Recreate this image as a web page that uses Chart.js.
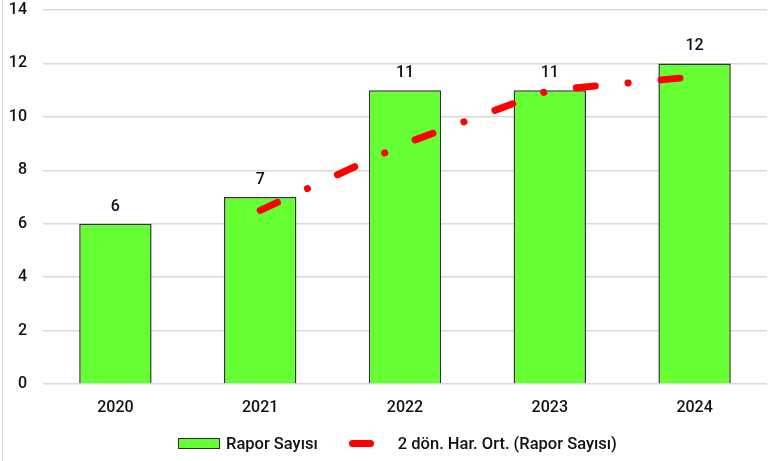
<!DOCTYPE html>
<html>
<head>
<meta charset="utf-8">
<script src="https://cdn.jsdelivr.net/npm/chart.js@4"></script>
<style>
  html, body { margin: 0; padding: 0; background: #fff; }
  #wrap { position: relative; width: 782px; height: 461px; font-family: Roboto, sans-serif; }
  #wrap::before { content: ''; position: absolute; left: 2px; top: 0; bottom: 0; border-left: 1px solid #d9d9d9; }
  #legend { position: absolute; left: 178px; top: 434px; height: 18px; display: flex; align-items: center;
            font-size: 16.5px; font-weight: 500; color: #111; white-space: nowrap; }
  #legend .bar { width: 40px; height: 9px; background: #66ff33; border: 1px solid #2b2b2b; box-sizing: content-box; margin-right: 6px; }
  #legend .line { width: 25px; height: 7px; background: #ff0000; border-radius: 4px; margin: 0 24px 0 31px; }
</style>
</head>
<body>
<div id="wrap">
  <canvas id="myChart" width="782" height="461"></canvas>
  <div id="legend"></div>
</div>
<script>
const years = ['2020', '2021', '2022', '2023', '2024'];
const reportCounts = [6, 7, 11, 11, 12];
// 2 period moving average of the counts
const movingAvg = [null, 6.5, 9, 11, 11.5];
const yTicks = [0, 2, 4, 6, 8, 10, 12, 14];

const FONT = 'Roboto, "DejaVu Sans Condensed", sans-serif';
Chart.defaults.font.family = FONT;
Chart.defaults.font.size = 16;
Chart.defaults.font.weight = '500';
Chart.defaults.color = '#111';

// value labels over the bars
const barValues = {
    id: 'barValues',
    afterDatasetsDraw(chart) {
        const ctx = chart.ctx;
        const meta = chart.getDatasetMeta(0);
        ctx.save();
        ctx.font = '500 16px ' + FONT;
        ctx.fillStyle = '#111';
        ctx.textAlign = 'center';
        ctx.textBaseline = 'middle';
        meta.data.forEach(function (bar, i) {
            ctx.fillText(String(reportCounts[i]), bar.x, bar.y - 17);
        });
        ctx.restore();
    }
};

// html legend built from the datasets
const htmlLegend = {
    id: 'htmlLegend',
    afterUpdate(chart) {
        const box = document.getElementById('legend');
        box.innerHTML = '';
        chart.data.datasets.forEach(function (ds) {
            const mark = document.createElement('span');
            mark.className = ds.type === 'bar' ? 'bar' : 'line';
            const text = document.createElement('span');
            text.textContent = ds.label;
            box.appendChild(mark);
            box.appendChild(text);
        });
    }
};

const data = {
    labels: years,
    datasets: [{
        type: 'bar',
        label: 'Rapor Sayısı',
        data: reportCounts,
        backgroundColor: '#66ff33',
        borderColor: '#333',
        borderWidth: 1.5,
        barPercentage: 0.5,
        categoryPercentage: 1,
        order: 1
    }, {
        type: 'line',
        label: '2 dön. Har. Ort. (Rapor Sayısı)',
        data: movingAvg,
        borderColor: '#ff0000',
        borderWidth: 7,
        borderDash: [19, 33, 0.1, 33],
        borderCapStyle: 'round',
        pointRadius: 0,
        tension: 0,
        order: 0
    }]
};

const config = {
    data: data,
    options: {
        responsive: false,
        animation: false,
        layout: { padding: { top: 10, right: 15, left: 5, bottom: 37 } },
        scales: {
            x: {
                grid: { display: false, drawTicks: false },
                border: { display: false },
                ticks: { padding: 14 },
                afterFit: function (axis) { axis.height = 40; }
            },
            y: {
                min: 0,
                max: 14,
                afterBuildTicks: function (axis) {
                    axis.ticks = yTicks.map(v => ({ value: v }));
                },
                grid: { color: '#d9d9d9', lineWidth: 1.5, drawTicks: false },
                border: { display: false },
                ticks: { padding: 16 },
                afterFit: function (axis) {
                    axis.width = 38;
                    axis.paddingTop = 0;
                    axis.paddingBottom = 0;
                }
            }
        },
        plugins: {
            tooltip: { enabled: false },
            legend: { display: false }
        }
    },
    plugins: [barValues, htmlLegend]
};

const myChart = new Chart(document.getElementById('myChart'), config);
</script>
</body>
</html>
